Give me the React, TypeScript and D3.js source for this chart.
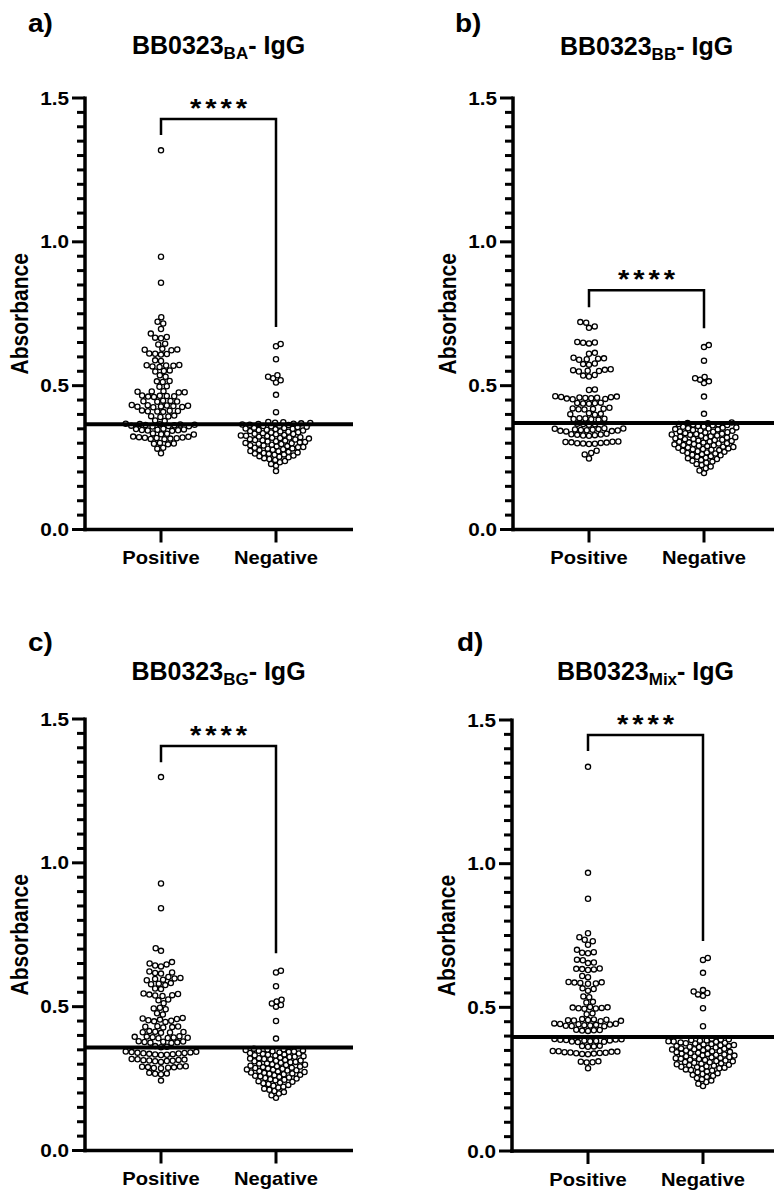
import React from "react";
import * as d3 from "d3";

const GROUPS = ["Positive", "Negative"];
const Y_TICKS = [0, 0.5, 1.0, 1.5];
const Y_TICK_LABELS = ["0.0", "0.5", "1.0", "1.5"];
const LETTERS = ["a)", "b)", "c)", "d)"];
const TITLE_MAIN = "BB0323";
const TITLE_SUBS = ["BA", "BB", "BG", "Mix"];
const TITLE_TAIL = "- IgG";
const Y_LABEL = "Absorbance";
const SIGNIF = "****";
const CUTOFFS = [0.366, 0.37, 0.358, 0.397];
// bracket: [top, left leg end, right leg end] in absorbance units
const BRACKETS = [
  [1.427, 1.371, 0.704],
  [0.832, 0.773, 0.7],
  [1.406, 1.35, 0.686],
  [1.448, 1.392, 0.731],
];

const A_POS = [
  1.318, 0.948, 0.858, 0.738, 0.722, 0.716, 0.697, 0.681, 0.669, 0.667, 0.665, 0.646, 0.643,
  0.628, 0.626, 0.625, 0.623, 0.612, 0.611, 0.61, 0.608, 0.588, 0.586, 0.572, 0.57, 0.569,
  0.567, 0.565, 0.571, 0.553, 0.551, 0.549, 0.536, 0.531, 0.516, 0.515, 0.513, 0.498, 0.496,
  0.481, 0.48, 0.479, 0.477, 0.476, 0.466, 0.465, 0.464, 0.462, 0.461, 0.463, 0.448, 0.447,
  0.446, 0.445, 0.444, 0.432, 0.431, 0.43, 0.429, 0.428, 0.427, 0.426, 0.433, 0.425, 0.414,
  0.413, 0.412, 0.411, 0.41, 0.409, 0.396, 0.394, 0.393, 0.391, 0.379, 0.377, 0.365, 0.364,
  0.363, 0.362, 0.361, 0.36, 0.359, 0.366, 0.367, 0.358, 0.368, 0.349, 0.348, 0.347, 0.346,
  0.345, 0.344, 0.35, 0.343, 0.334, 0.333, 0.331, 0.33, 0.322, 0.321, 0.32, 0.319, 0.318,
  0.317, 0.316, 0.315, 0.323, 0.314, 0.301, 0.299, 0.298, 0.296, 0.284, 0.281, 0.265,
];
const A_NEG = [
  0.645, 0.637, 0.592, 0.536, 0.531, 0.526, 0.519, 0.511, 0.468, 0.408,
  0.374, 0.373, 0.371, 0.37, 0.369, 0.368, 0.367, 0.365, 0.364, 0.363, 0.361, 0.36, 0.359,
  0.357, 0.356, 0.354, 0.353, 0.351, 0.35, 0.349, 0.347, 0.346, 0.344, 0.342, 0.341, 0.34,
  0.338, 0.337, 0.335, 0.333, 0.332, 0.331, 0.329, 0.327, 0.326, 0.325, 0.323, 0.321, 0.32,
  0.319, 0.318, 0.316, 0.314, 0.313, 0.311, 0.31, 0.309, 0.307, 0.306, 0.304, 0.303, 0.301,
  0.3, 0.298, 0.297, 0.295, 0.293, 0.292, 0.29, 0.289, 0.287, 0.286, 0.284, 0.282, 0.281,
  0.279, 0.277, 0.276, 0.273, 0.272, 0.27, 0.268, 0.266, 0.264, 0.263, 0.261, 0.26, 0.257,
  0.255, 0.253, 0.251, 0.248, 0.245, 0.242, 0.238, 0.234, 0.228, 0.222, 0.203,
];
const B_POS = [
  0.721, 0.719, 0.706, 0.701, 0.652, 0.65, 0.649, 0.647, 0.614, 0.611, 0.597, 0.595, 0.594,
  0.592, 0.59, 0.577, 0.575, 0.573, 0.557, 0.555, 0.554, 0.552, 0.551, 0.549, 0.537, 0.535,
  0.532, 0.487, 0.485, 0.463, 0.461, 0.46, 0.459, 0.458, 0.457, 0.456, 0.455, 0.454, 0.462,
  0.453, 0.441, 0.44, 0.439, 0.438, 0.437, 0.423, 0.421, 0.42, 0.419, 0.418, 0.417, 0.404,
  0.402, 0.401, 0.399, 0.387, 0.386, 0.385, 0.384, 0.383, 0.382, 0.368, 0.367, 0.366, 0.364,
  0.351, 0.35, 0.349, 0.348, 0.347, 0.346, 0.345, 0.344, 0.343, 0.352, 0.342, 0.341, 0.333,
  0.331, 0.33, 0.329, 0.328, 0.327, 0.326, 0.306, 0.304, 0.303, 0.302, 0.301, 0.3, 0.299,
  0.298, 0.305, 0.297, 0.274, 0.266, 0.261, 0.247,
];
const B_NEG = [
  0.641, 0.634, 0.587, 0.53, 0.526, 0.521, 0.515, 0.509, 0.462, 0.402,
  0.372, 0.37, 0.369, 0.367, 0.366, 0.365, 0.363, 0.362, 0.36, 0.358, 0.357, 0.355, 0.354,
  0.352, 0.351, 0.349, 0.348, 0.346, 0.344, 0.343, 0.341, 0.34, 0.338, 0.337, 0.335, 0.333,
  0.332, 0.33, 0.329, 0.327, 0.326, 0.324, 0.323, 0.321, 0.32, 0.318, 0.317, 0.315, 0.314,
  0.312, 0.311, 0.309, 0.308, 0.306, 0.305, 0.303, 0.302, 0.3, 0.299, 0.297, 0.296, 0.294,
  0.293, 0.291, 0.29, 0.288, 0.287, 0.285, 0.284, 0.282, 0.28, 0.279, 0.277, 0.276, 0.274,
  0.272, 0.27, 0.268, 0.266, 0.264, 0.262, 0.26, 0.258, 0.255, 0.253, 0.25, 0.248, 0.245,
  0.242, 0.239, 0.236, 0.232, 0.228, 0.224, 0.219, 0.213, 0.205, 0.196,
];
const C_POS = [
  1.298, 0.928, 0.842, 0.703, 0.694, 0.655, 0.65, 0.647, 0.643, 0.64, 0.622, 0.619, 0.617,
  0.615, 0.603, 0.6, 0.598, 0.596, 0.594, 0.592, 0.582, 0.58, 0.578, 0.575, 0.563, 0.561,
  0.546, 0.544, 0.542, 0.54, 0.539, 0.537, 0.525, 0.522, 0.512, 0.496, 0.494, 0.491, 0.477,
  0.473, 0.461, 0.459, 0.457, 0.455, 0.453, 0.451, 0.449, 0.447, 0.432, 0.431, 0.43, 0.429,
  0.428, 0.415, 0.413, 0.412, 0.411, 0.41, 0.409, 0.397, 0.396, 0.395, 0.394, 0.393, 0.392,
  0.391, 0.39, 0.38, 0.379, 0.378, 0.377, 0.376, 0.375, 0.374, 0.363, 0.361, 0.359, 0.343,
  0.342, 0.341, 0.34, 0.339, 0.338, 0.337, 0.336, 0.335, 0.334, 0.333, 0.344, 0.332, 0.318,
  0.317, 0.316, 0.315, 0.314, 0.313, 0.312, 0.311, 0.31, 0.308, 0.293, 0.292, 0.291, 0.29,
  0.289, 0.288, 0.287, 0.286, 0.27, 0.268, 0.267, 0.265, 0.243,
];
const C_NEG = [
  0.625, 0.619, 0.571, 0.524, 0.518, 0.511, 0.506, 0.5, 0.45, 0.389,
  0.354, 0.352, 0.351, 0.349, 0.348, 0.347, 0.345, 0.344, 0.343, 0.341, 0.339, 0.337, 0.336,
  0.334, 0.333, 0.331, 0.33, 0.328, 0.326, 0.325, 0.323, 0.321, 0.32, 0.318, 0.317, 0.315,
  0.313, 0.312, 0.31, 0.308, 0.307, 0.305, 0.303, 0.302, 0.3, 0.298, 0.297, 0.295, 0.293,
  0.292, 0.29, 0.288, 0.287, 0.285, 0.284, 0.282, 0.281, 0.279, 0.278, 0.276, 0.275, 0.273,
  0.271, 0.27, 0.268, 0.267, 0.265, 0.263, 0.262, 0.26, 0.258, 0.256, 0.254, 0.252, 0.25,
  0.248, 0.246, 0.244, 0.241, 0.239, 0.236, 0.234, 0.231, 0.228, 0.225, 0.222, 0.219, 0.215,
  0.211, 0.207, 0.203, 0.198, 0.192, 0.183,
];
const D_POS = [
  1.337, 0.968, 0.878, 0.758, 0.744, 0.735, 0.73, 0.718, 0.7, 0.692, 0.69, 0.688, 0.666,
  0.664, 0.656, 0.654, 0.635, 0.633, 0.632, 0.63, 0.634, 0.609, 0.605, 0.588, 0.586, 0.585,
  0.583, 0.582, 0.587, 0.566, 0.564, 0.558, 0.538, 0.535, 0.519, 0.517, 0.5, 0.499, 0.498,
  0.497, 0.496, 0.495, 0.501, 0.479, 0.476, 0.458, 0.457, 0.456, 0.455, 0.454, 0.453, 0.459,
  0.452, 0.442, 0.441, 0.44, 0.439, 0.438, 0.437, 0.436, 0.435, 0.443, 0.434, 0.444, 0.422,
  0.421, 0.42, 0.419, 0.418, 0.388, 0.387, 0.386, 0.385, 0.384, 0.383, 0.382, 0.381, 0.389,
  0.38, 0.39, 0.379, 0.366, 0.365, 0.364, 0.363, 0.346, 0.345, 0.344, 0.343, 0.342, 0.341,
  0.34, 0.339, 0.347, 0.338, 0.348, 0.337, 0.312, 0.311, 0.309, 0.308, 0.288,
];
const D_NEG = [
  0.672, 0.665, 0.62, 0.56, 0.555, 0.55, 0.545, 0.54, 0.497, 0.434,
  0.391, 0.389, 0.388, 0.386, 0.385, 0.384, 0.382, 0.381, 0.38, 0.378, 0.377, 0.375, 0.374,
  0.372, 0.371, 0.369, 0.368, 0.366, 0.365, 0.363, 0.362, 0.36, 0.359, 0.357, 0.356, 0.354,
  0.353, 0.351, 0.35, 0.348, 0.347, 0.345, 0.344, 0.342, 0.341, 0.339, 0.338, 0.336, 0.335,
  0.333, 0.332, 0.33, 0.329, 0.327, 0.326, 0.324, 0.323, 0.321, 0.32, 0.318, 0.317, 0.315,
  0.313, 0.312, 0.31, 0.309, 0.307, 0.305, 0.304, 0.302, 0.3, 0.299, 0.297, 0.295, 0.293,
  0.292, 0.29, 0.288, 0.286, 0.284, 0.282, 0.28, 0.277, 0.274, 0.271, 0.268, 0.265, 0.262,
  0.258, 0.254, 0.25, 0.245, 0.24, 0.234, 0.226,
];

const SERIES = [
  [A_POS, A_NEG],
  [B_POS, B_NEG],
  [C_POS, C_NEG],
  [D_POS, D_NEG],
];

const LAYOUT = [
  { axisX: 85, y0: 529.5, yTop: 98, titleY: 54, letterX: 28, letterY: 32, right: 353 },
  { axisX: 513, y0: 529.5, yTop: 98, titleY: 55, letterX: 455, letterY: 32, right: 781 },
  { axisX: 85, y0: 1150.5, yTop: 719, titleY: 680, letterX: 28, letterY: 651, right: 353 },
  { axisX: 512, y0: 1151, yTop: 720, titleY: 680, letterX: 457, letterY: 651, right: 780 },
];

const FONT = "'Liberation Sans', Arial, Helvetica, sans-serif";
const SX = 1.12;

function swarm(values: number[], y: (v: number) => number, cx: number, D: number) {
  const pts = values.map((v) => ({ v, y: y(v) })).sort((a, b) => b.y - a.y);
  const placed: { y: number; dx: number }[] = [];
  let flip = 1;
  for (const p of pts) {
    const near = placed.filter((q) => Math.abs(q.y - p.y) < D);
    const cands = [0];
    near.forEach((q) => {
      const dx = Math.sqrt(D * D - (q.y - p.y) ** 2);
      cands.push(q.dx - dx, q.dx + dx);
    });
    cands.sort((a, b) => Math.abs(a) - Math.abs(b) || (a - b) * flip);
    let best = 0;
    for (const c of cands) {
      if (near.every((q) => (c - q.dx) ** 2 + (q.y - p.y) ** 2 >= D * D - 1e-6)) {
        best = c;
        break;
      }
    }
    if (best !== 0) flip = -flip;
    placed.push({ y: p.y, dx: best });
  }
  return placed.map((p) => ({ cx: cx + p.dx, cy: p.y }));
}

function Panel({ i }: { i: number }) {
  const L = LAYOUT[i];
  const y = d3.scaleLinear().domain([0, 1.5]).range([L.y0, L.yTop]);
  const x = d3.scalePoint<string>().domain(GROUPS).range([L.axisX + 76, L.axisX + 191]);
  const minor = d3.range(0, 1.5001, 0.05);
  const [bt, bl, br] = BRACKETS[i];
  const xp = x(GROUPS[0])!;
  const xn = x(GROUPS[1])!;
  const swarms = SERIES[i].map((vals, g) =>
    swarm(vals, y, x(GROUPS[g])!, g === 0 ? 5.9 : 5.2)
  );
  const midY = (L.y0 + L.yTop) / 2;
  return (
    <g>
      {/* panel letter */}
      <g transform={`translate(${L.letterX},${L.letterY}) scale(${SX},1)`}>
        <text fontFamily={FONT} fontWeight="bold" fontSize={25} fill="#000">
          {LETTERS[i]}
        </text>
      </g>
      {/* title */}
      <g transform={`translate(${L.axisX + 133.5},${L.titleY})`}>
        <text fontFamily={FONT} fontWeight="bold" fontSize={25} textAnchor="middle" fill="#000">
          {TITLE_MAIN}
          <tspan fontSize={17} dy={5}>
            {TITLE_SUBS[i]}
          </tspan>
          <tspan dy={-5}>{TITLE_TAIL}</tspan>
        </text>
      </g>
      {/* y label */}
      <g transform={`translate(${L.axisX - 57},${midY}) scale(${SX},1) rotate(-90)`}>
        <text fontFamily={FONT} fontWeight="bold" fontSize={21} textAnchor="middle" fill="#000">
          {Y_LABEL}
        </text>
      </g>
      {/* y ticks */}
      {minor.map((t, k) => {
        const major = k % 10 === 0;
        return (
          <line
            key={k}
            x1={L.axisX - (major ? 13 : 8)}
            x2={L.axisX}
            y1={y(t)}
            y2={y(t)}
            stroke="#000"
            strokeWidth={3}
          />
        );
      })}
      {Y_TICKS.map((t, k) => (
        <g key={k} transform={`translate(${L.axisX - 16},${y(t) + 6.5}) scale(${SX},1)`}>
          <text fontFamily={FONT} fontWeight="bold" fontSize={18.5} textAnchor="end" fill="#000">
            {Y_TICK_LABELS[k]}
          </text>
        </g>
      ))}
      {/* axes */}
      <line x1={L.axisX} x2={L.axisX} y1={L.yTop - 1.5} y2={L.y0 + 1.75} stroke="#000" strokeWidth={3.5} />
      <line x1={L.axisX - 1.75} x2={L.right} y1={L.y0} y2={L.y0} stroke="#000" strokeWidth={3.5} />
      {GROUPS.map((g) => (
        <g key={g}>
          <line x1={x(g)} x2={x(g)} y1={L.y0} y2={L.y0 + 13} stroke="#000" strokeWidth={3} />
          <g transform={`translate(${x(g)},${L.y0 + 34.5}) scale(${SX},1)`}>
            <text fontFamily={FONT} fontWeight="bold" fontSize={18} textAnchor="middle" fill="#000">
              {g}
            </text>
          </g>
        </g>
      ))}
      {/* points */}
      {swarms.map((pts, g) =>
        pts.map((p, k) => (
          <circle key={`${g}-${k}`} cx={p.cx} cy={p.cy} r={2.6} fill="#fff" stroke="#000" strokeWidth={1.3} />
        ))
      )}
      {/* cutoff line */}
      <line x1={L.axisX} x2={L.right} y1={y(CUTOFFS[i])} y2={y(CUTOFFS[i])} stroke="#000" strokeWidth={4} />
      {/* significance bracket */}
      <path
        d={`M${xp},${y(bl)}V${y(bt)}H${xn}V${y(br)}`}
        fill="none"
        stroke="#000"
        strokeWidth={2.5}
      />
      <g transform={`translate(${(xp + xn) / 2 + 2},${y(bt) - 2}) scale(${SX},1)`}>
        <text fontFamily={FONT} fontWeight="bold" fontSize={26} textAnchor="middle" letterSpacing={3.5} fill="#000">
          {SIGNIF}
        </text>
      </g>
    </g>
  );
}

export default function App() {
  return (
    <svg
      width={774}
      height={1196}
      viewBox="0 0 774 1196"
      style={{ position: "absolute", left: 0, top: 0, background: "#fff", overflow: "hidden" }}
    >
      <rect width={774} height={1196} fill="#fff" />
      {[0, 1, 2, 3].map((i) => (
        <Panel key={i} i={i} />
      ))}
    </svg>
  );
}
